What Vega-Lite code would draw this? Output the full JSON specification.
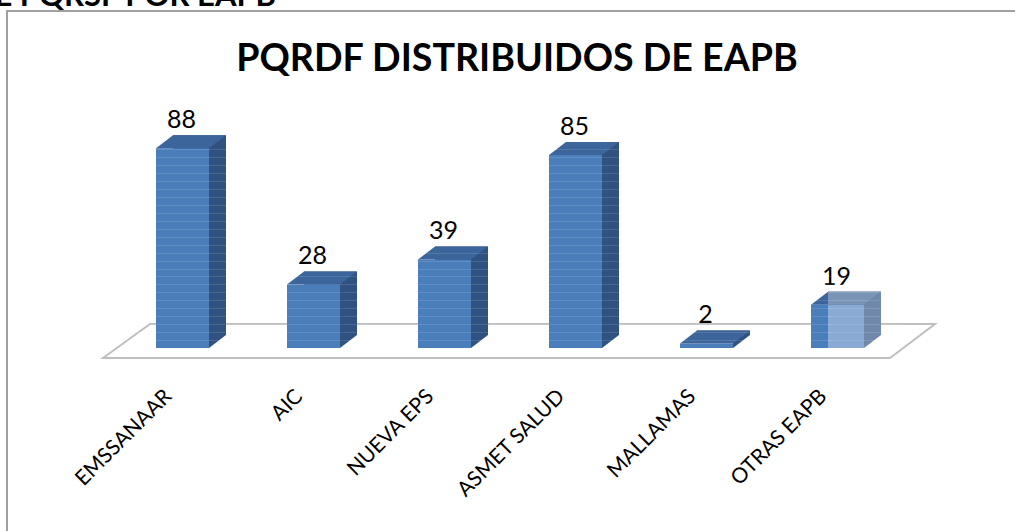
{"$schema":"https://vega.github.io/schema/vega-lite/v6.json","width":786,"height":227,"autosize":{"type":"none"},"padding":{"left":117,"top":121,"right":112,"bottom":183},"background":"white","title":{"text":"PQRDF DISTRIBUIDOS DE EAPB","font":"Lato","fontSize":37.6,"fontWeight":"bold","color":"#000000","anchor":"middle","dx":7,"offset":-98},"config":{"view":{"stroke":null},"point":{"opacity":1},"font":"Lato"},"data":{"values":[{"eapb":"EMSSANAAR","pqrdf":88},{"eapb":"AIC","pqrdf":28},{"eapb":"NUEVA EPS","pqrdf":39},{"eapb":"ASMET SALUD","pqrdf":85},{"eapb":"MALLAMAS","pqrdf":2},{"eapb":"OTRAS EAPB","pqrdf":19}]},"encoding":{"x":{"field":"eapb","type":"nominal","sort":["EMSSANAAR","AIC","NUEVA EPS","ASMET SALUD","MALLAMAS","OTRAS EAPB"],"title":null,"scale":{"paddingInner":0,"paddingOuter":0},"axis":{"domain":false,"ticks":false,"labelAngle":-45,"labelAlign":"right","labelBaseline":"middle","labelPadding":45,"labelOffset":-14,"labelFont":"Lato","labelFontSize":21,"labelColor":"#000000"}},"y":{"field":"pqrdf","type":"quantitative","title":null,"scale":{"domain":[0,100],"nice":false},"axis":{"domain":false,"ticks":false,"labels":false,"grid":true,"gridColor":"#ffffff","gridOpacity":0.12,"gridWidth":1,"zindex":1,"values":[3.5,7,10.5,14,17.5,21,24.5,28,31.5,35,38.5,42,45.5,49,52.5,56,59.5,63,66.5,70,73.5,77,80.5,84,87.5]}}},"layer":[{"transform":[{"filter":"datum.eapb === 'AIC'"}],"mark":{"type":"point","filled":true,"size":4,"fill":"#ffffff","stroke":"#bfbfbf","strokeWidth":2,"opacity":1,"shape":"M-210.5,10 L-163.5,-24 L621.5,-24 L576.5,10 Z"},"encoding":{"y":{"datum":0}}},{"transform":[{"filter":"datum.eapb === 'AIC'"}],"mark":{"type":"point","filled":false,"size":4,"stroke":"#a0a0a0","strokeWidth":2,"opacity":1,"shape":"M-306.5,183 L-306.5,-337 L701.5,-337"},"encoding":{"y":{"datum":0}}},{"mark":{"type":"bar","size":53,"xOffset":17,"yOffset":-13,"y2Offset":-13},"encoding":{"color":{"condition":{"test":"datum.eapb === 'OTRAS EAPB'","value":"#7088a9"},"value":"#2f5280"}}},{"mark":{"type":"point","filled":true,"size":4,"opacity":1,"shape":"M26.5,0 L43.5,-13 L26.5,-13 Z"},"encoding":{"y":{"datum":0},"color":{"condition":{"test":"datum.eapb === 'OTRAS EAPB'","value":"#7088a9"},"value":"#2f5280"}}},{"mark":{"type":"bar","size":53,"color":"#4a7ebb"}},{"mark":{"type":"point","filled":true,"size":4,"opacity":1,"color":"#3c659b","shape":"M-26.5,0 L-9.5,-13 L43.5,-13 L26.5,0 Z"}},{"transform":[{"filter":"datum.eapb === 'OTRAS EAPB'"}],"mark":{"type":"bar","size":36,"xOffset":8.5,"color":"#8aaad4"}},{"transform":[{"filter":"datum.eapb === 'OTRAS EAPB'"}],"mark":{"type":"point","filled":true,"size":4,"opacity":1,"color":"#7a94b8","shape":"M-9.5,0 L-9.5,-13 L43.5,-13 L26.5,0 Z"}},{"mark":{"type":"text","font":"Lato","fontSize":25,"color":"#000000","baseline":"alphabetic","align":"center","dy":-20,"dx":-1},"encoding":{"text":{"field":"pqrdf","type":"quantitative"}}},{"transform":[{"filter":"datum.eapb === 'AIC'"}],"mark":{"type":"text","text":"E PQRSF POR EAPB","font":"Lato","fontSize":31,"fontWeight":"bold","color":"#000000","align":"left","baseline":"alphabetic","dx":-319,"dy":-342},"encoding":{"y":{"datum":0}}}]}
